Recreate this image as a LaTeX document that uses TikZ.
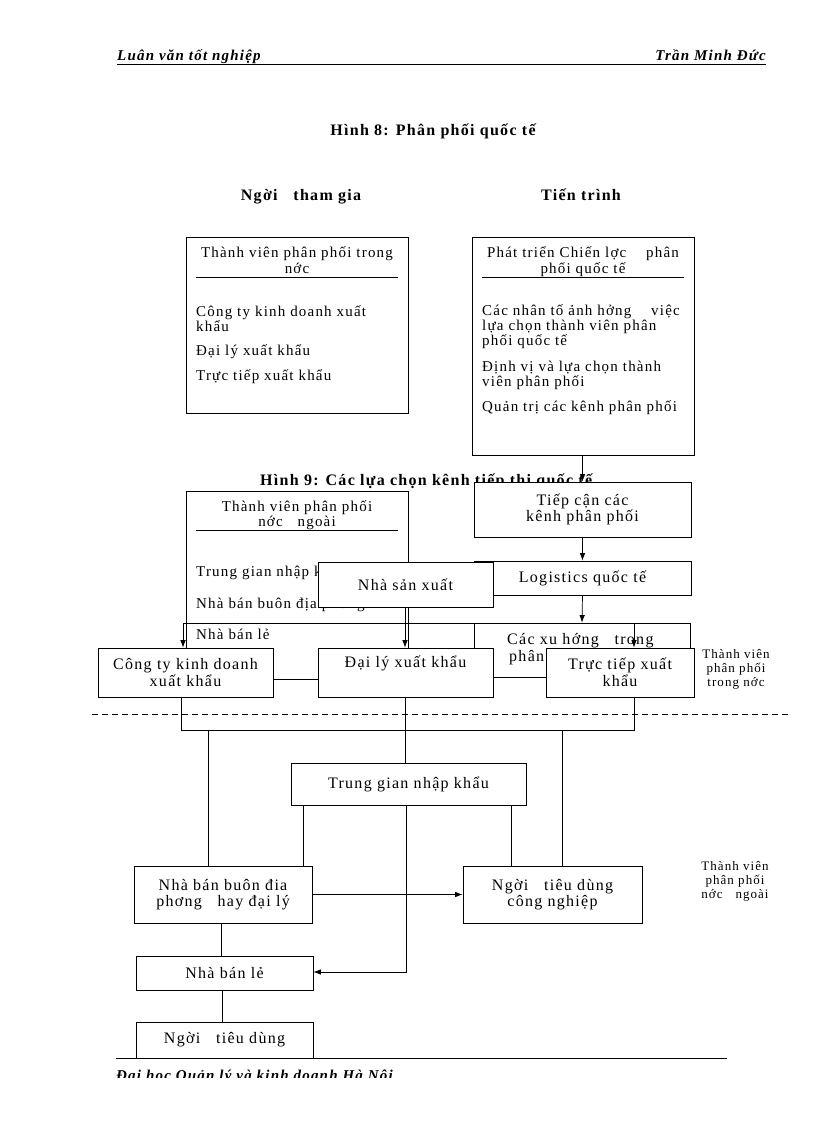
\documentclass[tikz,border=0pt]{standalone}
\usepackage{fontspec}
\setmainfont{Liberation Serif}[LetterSpace=8]
\usetikzlibrary{arrows.meta}
\newcommand\fsz[1]{\fontsize{#1}{#1}\selectfont}
\begin{document}
\begin{tikzpicture}[x=1pt,y=-1pt,
 box/.style={draw, fill=white, line width=0.8pt, inner sep=0pt, align=center, font=\fontsize{16}{16.5}\selectfont},
 txt/.style={inner sep=0pt, font=\fontsize{15}{15}\selectfont, anchor=base},
 ltxt/.style={inner sep=0pt, font=\fontsize{15}{15}\selectfont, anchor=base west},
 conn/.style={line width=0.7pt},
 arr/.style={conn, -{Latex[length=7.5pt,width=5.5pt]}},
 hd/.style={inner sep=0pt, font=\fsz{16}\bfseries, anchor=base},
 side/.style={inner sep=0pt, font=\fontsize{13}{14}\selectfont, align=center},
 pg/.style={inner sep=0pt, font=\fsz{15}\bfseries\itshape}
]
\useasboundingbox (0,0) rectangle (816,1123);
\fill[white] (0,0) rectangle (816,1123);

% header / footer
\node[pg, anchor=base west] (hl) at (117,61) {Luân văn tốt nghiệp};
\node[pg, anchor=base east] (hr) at (766,61) {Trần Minh Đức};
\draw[line width=0.6pt] (117,64) -- (766,64);
\draw[line width=0.6pt] (116,1058) -- (727,1058);
\begin{scope}
\clip (100,1059) rectangle (600,1077);
\node[pg, anchor=base west] (ft) at (116,1080) {Đại học Quản lý và kinh doanh Hà Nội};
\end{scope}

% titles
\node[hd] (t8) at (433,136) {Hình 8: Phân phối quốc tế};
\node[hd] (ng) at (301,201) {Ngời\ \ \ tham gia};
\node[hd] (tt) at (581,201) {Tiến trình};

% box 1
\node[box, minimum width=222pt, minimum height=176pt] (b1) at (297,325) {};
\node[txt] (b1h1) at (297,258) {Thành viên phân phối trong};
\node[txt] (b1h2) at (297,273) {nớc};
\draw[line width=0.7pt] (196,277.5) -- (398,277.5);
\node[ltxt] (b1i1) at (196,316) {Công ty kinh doanh xuất};
\node[ltxt] (b1i2) at (196,331) {khẩu};
\node[ltxt] (b1i3) at (196,355) {Đại lý xuất khẩu};
\node[ltxt] (b1i4) at (196,380) {Trực tiếp xuất khẩu};

% box 2
\node[box, minimum width=222pt, minimum height=218pt] (b2) at (583,346) {};
\node[txt] (b2h1) at (583,258) {Phát triển Chiến lợc\ \ \ \ phân};
\node[txt] (b2h2) at (583,273) {phối quốc tế};
\draw[line width=0.7pt] (482,277.5) -- (684,277.5);
\node[ltxt] (b2i1) at (482,315) {Các nhân tố ảnh hởng\ \ \ \ việc};
\node[ltxt] (b2i2) at (482,330) {lựa chọn thành viên phân};
\node[ltxt] (b2i3) at (482,345) {phối quốc tế};
\node[ltxt] (b2i4) at (482,371) {Định vị và lựa chọn thành};
\node[ltxt] (b2i5) at (482,386) {viên phân phối};
\node[ltxt] (b2i6) at (482,411) {Quản trị các kênh phân phối};

% title 9 (partly covered)
\node[hd, anchor=base west] (t9) at (260,485) {Hình 9: Các lựa chọn kênh tiếp thị quốc tế};

\node[box, minimum width=217pt, minimum height=55pt] (tc) at (582.5,509.5) {Tiếp cận các\\kênh phân phối};
\draw[arr] (b2.south -| tc.north) -- (tc.north);

% box 3
\node[box, minimum width=222pt, minimum height=188pt] (b3) at (297,585) {};
\node[txt] (b3h1) at (297,511) {Thành viên phân phối};
\node[txt] (b3h2) at (297,526) {nớc\ \ \ ngoài};
\draw[line width=0.7pt] (196,530.5) -- (398,530.5);
\node[ltxt] (b3i1) at (196,576) {Trung gian nhập khẩu};
\node[ltxt] (b3i2) at (196,608) {Nhà bán buôn địa phơng};
\node[ltxt] (b3i3) at (196,639) {Nhà bán lẻ};

% logistics, producer
\node[box, minimum width=217pt, minimum height=34pt] (lg) at (582.5,578) {Logistics\ quốc tế};
\draw[arr] (tc.south) -- (lg.north);
\node[box, minimum width=175pt, minimum height=45pt] (nsx) at (405.5,584.5) {Nhà sản xuất};

% trends
\node[box, minimum width=216pt, minimum height=54pt] (xh) at (582,650) {};
\node[ltxt, font=\fontsize{16}{16}\selectfont] (xh1) at (507,644) {Các xu hớng\ \ \ trong};
\node[ltxt, font=\fontsize{16}{16}\selectfont] (xh2) at (509,661) {phân};
\draw[arr] (lg.south) -- (xh.north);

% distribution line
\coordinate (d1) at (183,623);
\coordinate (d2) at (634,623);
\draw[conn] (d1) -- (d2);

% domestic members
\node[box, minimum width=175pt, minimum height=49pt] (ct) at (185.5,672.5) {Công ty kinh doanh\\xuất khẩu};
\node[box, minimum width=175pt, minimum height=49pt] (dl) at (405.5,672.5) {};
\node[txt, font=\fontsize{16}{16}\selectfont] (dlt) at (405.5,667) {Đại lý xuất khẩu};
\node[box, minimum width=148pt, minimum height=49pt] (tr) at (620,672.5) {Trực tiếp xuất\\khẩu};
\draw[arr] (d1) -- (d1 |- ct.north);
\draw[arr] (d2) -- (d2 |- tr.north);
\draw[arr] ([xshift=-0.5pt]nsx.south) -- ([xshift=-0.5pt]dl.north);

\node[side] (s1) at (736,669) {Thành viên\\phân phối\\trong nớc};

% dashed separator
\draw[line width=0.7pt, dash pattern=on 6pt off 4pt] (92,714) -- (790,714);

% lower part
\node[box, minimum width=235pt, minimum height=42pt] (tg) at (408.5,784) {Trung gian nhập khẩu};
\node[box, minimum width=178pt, minimum height=57pt] (bb) at (223,894.5) {Nhà bán buôn đia\\phơng\ \ \ hay đại lý};
\node[box, minimum width=179pt, minimum height=57pt] (nc) at (552.5,894.5) {Ngời\ \ \ tiêu dùng\\công nghiệp};
\node[box, minimum width=177pt, minimum height=34pt] (bl) at (224.5,973) {Nhà bán lẻ};
\node[box, minimum width=177pt, minimum height=36pt] (nd) at (224.5,1040) {Ngời\ \ \ tiêu dùng};

\coordinate (j1) at (181,730);
\coordinate (j2) at (634,730);
\coordinate (j3) at (208,730);
\coordinate (j4) at (562,730);
\coordinate (k1) at (303,805);
\coordinate (k2) at (406,805);
\coordinate (k3) at (511,805);
\coordinate (m1) at (406,972);

\draw[conn] (j1 |- ct.south) -- (j1) -- (j2) -- (j2 |- tr.south);
\draw[conn] (dl.south) -- (dl.south |- tg.north);
\draw[conn] (j3) -- (j3 |- bb.north);
\draw[conn] (j4) -- (j4 |- nc.north);
\draw[conn] (k1) -- (k1 |- bb.north);
\draw[conn] (k3) -- (k3 |- nc.north);
\draw[arr] (k2) -- (m1) -- (m1 -| bl.east);
\draw[arr] (bb.east) -- (nc.west);
\draw[conn] ([xshift=-2pt]bb.south) -- ([xshift=-2pt]bb.south |- bl.north);
\draw[conn] ([xshift=-2pt]bl.south) -- ([xshift=-2pt]bl.south |- nd.north);

\node[side] (s2) at (735,881) {Thành viên\\phân phối\\nớc\ \ \ ngoài};
\end{tikzpicture}
\end{document}
